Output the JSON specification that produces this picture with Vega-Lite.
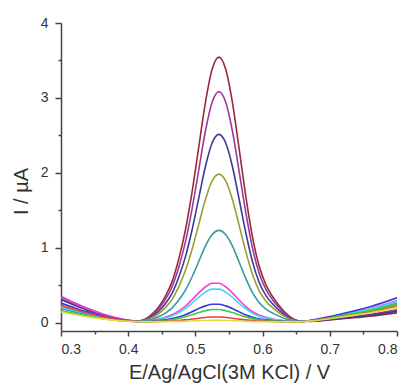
{
"$schema":"https://vega.github.io/schema/vega-lite/v6.json",
"width":336,"height":308,
"autosize":{"type":"none"},
"padding":{"left":61,"top":23,"right":11,"bottom":59},
"background":"white",
"config":{"view":{"stroke":null},"axis":{"grid":false,"domainColor":"#444","domainWidth":1.5,"tickColor":"#444","tickWidth":1.5,"labelFont":"Liberation Sans","labelFontSize":14,"labelColor":"#333","titleFont":"Liberation Sans","titleFontSize":20,"titleFontWeight":"normal","titleColor":"#333","labelOverlap":false}},
"data":{"values":[
{"s":"wine","E":0.30,"I":0.315},{"s":"wine","E":0.32,"I":0.24},{"s":"wine","E":0.34,"I":0.171},{"s":"wine","E":0.36,"I":0.114},{"s":"wine","E":0.38,"I":0.066},{"s":"wine","E":0.40,"I":0.033},{"s":"wine","E":0.415,"I":0.027},{"s":"wine","E":0.425,"I":0.05},{"s":"wine","E":0.435,"I":0.114},{"s":"wine","E":0.445,"I":0.209},{"s":"wine","E":0.455,"I":0.35},{"s":"wine","E":0.465,"I":0.545},{"s":"wine","E":0.475,"I":0.845},{"s":"wine","E":0.485,"I":1.233},{"s":"wine","E":0.495,"I":1.745},{"s":"wine","E":0.505,"I":2.345},{"s":"wine","E":0.515,"I":2.945},{"s":"wine","E":0.525,"I":3.386},{"s":"wine","E":0.535,"I":3.545},{"s":"wine","E":0.545,"I":3.386},{"s":"wine","E":0.555,"I":2.945},{"s":"wine","E":0.565,"I":2.327},{"s":"wine","E":0.575,"I":1.692},{"s":"wine","E":0.585,"I":1.145},{"s":"wine","E":0.595,"I":0.756},{"s":"wine","E":0.605,"I":0.509},{"s":"wine","E":0.615,"I":0.35},{"s":"wine","E":0.625,"I":0.227},{"s":"wine","E":0.635,"I":0.128},{"s":"wine","E":0.645,"I":0.057},{"s":"wine","E":0.655,"I":0.026},{"s":"wine","E":0.67,"I":0.022},{"s":"wine","E":0.70,"I":0.041},{"s":"wine","E":0.73,"I":0.065},{"s":"wine","E":0.76,"I":0.091},{"s":"wine","E":0.80,"I":0.135},
{"s":"purple","E":0.30,"I":0.355},{"s":"purple","E":0.32,"I":0.27},{"s":"purple","E":0.34,"I":0.192},{"s":"purple","E":0.36,"I":0.127},{"s":"purple","E":0.38,"I":0.073},{"s":"purple","E":0.40,"I":0.035},{"s":"purple","E":0.415,"I":0.026},{"s":"purple","E":0.425,"I":0.046},{"s":"purple","E":0.435,"I":0.101},{"s":"purple","E":0.445,"I":0.184},{"s":"purple","E":0.455,"I":0.307},{"s":"purple","E":0.465,"I":0.476},{"s":"purple","E":0.475,"I":0.736},{"s":"purple","E":0.485,"I":1.074},{"s":"purple","E":0.495,"I":1.519},{"s":"purple","E":0.505,"I":2.041},{"s":"purple","E":0.515,"I":2.563},{"s":"purple","E":0.525,"I":2.947},{"s":"purple","E":0.535,"I":3.085},{"s":"purple","E":0.545,"I":2.947},{"s":"purple","E":0.555,"I":2.563},{"s":"purple","E":0.565,"I":2.026},{"s":"purple","E":0.575,"I":1.473},{"s":"purple","E":0.585,"I":0.997},{"s":"purple","E":0.595,"I":0.66},{"s":"purple","E":0.605,"I":0.445},{"s":"purple","E":0.615,"I":0.307},{"s":"purple","E":0.625,"I":0.199},{"s":"purple","E":0.635,"I":0.113},{"s":"purple","E":0.645,"I":0.052},{"s":"purple","E":0.655,"I":0.024},{"s":"purple","E":0.67,"I":0.025},{"s":"purple","E":0.70,"I":0.05},{"s":"purple","E":0.73,"I":0.082},{"s":"purple","E":0.76,"I":0.116},{"s":"purple","E":0.80,"I":0.175},
{"s":"navy","E":0.30,"I":0.315},{"s":"navy","E":0.32,"I":0.24},{"s":"navy","E":0.34,"I":0.171},{"s":"navy","E":0.36,"I":0.114},{"s":"navy","E":0.38,"I":0.066},{"s":"navy","E":0.40,"I":0.033},{"s":"navy","E":0.415,"I":0.025},{"s":"navy","E":0.425,"I":0.04},{"s":"navy","E":0.435,"I":0.085},{"s":"navy","E":0.445,"I":0.153},{"s":"navy","E":0.455,"I":0.253},{"s":"navy","E":0.465,"I":0.39},{"s":"navy","E":0.475,"I":0.603},{"s":"navy","E":0.485,"I":0.878},{"s":"navy","E":0.495,"I":1.24},{"s":"navy","E":0.505,"I":1.665},{"s":"navy","E":0.515,"I":2.09},{"s":"navy","E":0.525,"I":2.403},{"s":"navy","E":0.535,"I":2.515},{"s":"navy","E":0.545,"I":2.403},{"s":"navy","E":0.555,"I":2.09},{"s":"navy","E":0.565,"I":1.653},{"s":"navy","E":0.575,"I":1.203},{"s":"navy","E":0.585,"I":0.815},{"s":"navy","E":0.595,"I":0.54},{"s":"navy","E":0.605,"I":0.365},{"s":"navy","E":0.615,"I":0.253},{"s":"navy","E":0.625,"I":0.165},{"s":"navy","E":0.635,"I":0.095},{"s":"navy","E":0.645,"I":0.045},{"s":"navy","E":0.655,"I":0.023},{"s":"navy","E":0.67,"I":0.023},{"s":"navy","E":0.70,"I":0.046},{"s":"navy","E":0.73,"I":0.074},{"s":"navy","E":0.76,"I":0.103},{"s":"navy","E":0.80,"I":0.155},
{"s":"olive","E":0.30,"I":0.155},{"s":"olive","E":0.32,"I":0.12},{"s":"olive","E":0.34,"I":0.088},{"s":"olive","E":0.36,"I":0.061},{"s":"olive","E":0.38,"I":0.039},{"s":"olive","E":0.40,"I":0.023},{"s":"olive","E":0.415,"I":0.021},{"s":"olive","E":0.425,"I":0.035},{"s":"olive","E":0.435,"I":0.07},{"s":"olive","E":0.445,"I":0.123},{"s":"olive","E":0.455,"I":0.202},{"s":"olive","E":0.465,"I":0.311},{"s":"olive","E":0.475,"I":0.478},{"s":"olive","E":0.485,"I":0.695},{"s":"olive","E":0.495,"I":0.98},{"s":"olive","E":0.505,"I":1.315},{"s":"olive","E":0.515,"I":1.65},{"s":"olive","E":0.525,"I":1.896},{"s":"olive","E":0.535,"I":1.985},{"s":"olive","E":0.545,"I":1.896},{"s":"olive","E":0.555,"I":1.65},{"s":"olive","E":0.565,"I":1.305},{"s":"olive","E":0.575,"I":0.951},{"s":"olive","E":0.585,"I":0.645},{"s":"olive","E":0.595,"I":0.429},{"s":"olive","E":0.605,"I":0.291},{"s":"olive","E":0.615,"I":0.202},{"s":"olive","E":0.625,"I":0.133},{"s":"olive","E":0.635,"I":0.078},{"s":"olive","E":0.645,"I":0.039},{"s":"olive","E":0.655,"I":0.021},{"s":"olive","E":0.67,"I":0.028},{"s":"olive","E":0.70,"I":0.063},{"s":"olive","E":0.73,"I":0.107},{"s":"olive","E":0.76,"I":0.154},{"s":"olive","E":0.80,"I":0.235},
{"s":"teal","E":0.30,"I":0.195},{"s":"teal","E":0.32,"I":0.15},{"s":"teal","E":0.34,"I":0.109},{"s":"teal","E":0.36,"I":0.074},{"s":"teal","E":0.38,"I":0.046},{"s":"teal","E":0.40,"I":0.026},{"s":"teal","E":0.415,"I":0.02},{"s":"teal","E":0.425,"I":0.027},{"s":"teal","E":0.435,"I":0.049},{"s":"teal","E":0.445,"I":0.082},{"s":"teal","E":0.455,"I":0.131},{"s":"teal","E":0.465,"I":0.198},{"s":"teal","E":0.475,"I":0.302},{"s":"teal","E":0.485,"I":0.436},{"s":"teal","E":0.495,"I":0.613},{"s":"teal","E":0.505,"I":0.82},{"s":"teal","E":0.515,"I":1.028},{"s":"teal","E":0.525,"I":1.18},{"s":"teal","E":0.535,"I":1.235},{"s":"teal","E":0.545,"I":1.18},{"s":"teal","E":0.555,"I":1.028},{"s":"teal","E":0.565,"I":0.814},{"s":"teal","E":0.575,"I":0.595},{"s":"teal","E":0.585,"I":0.405},{"s":"teal","E":0.595,"I":0.271},{"s":"teal","E":0.605,"I":0.186},{"s":"teal","E":0.615,"I":0.131},{"s":"teal","E":0.625,"I":0.088},{"s":"teal","E":0.635,"I":0.054},{"s":"teal","E":0.645,"I":0.03},{"s":"teal","E":0.655,"I":0.019},{"s":"teal","E":0.67,"I":0.03},{"s":"teal","E":0.70,"I":0.07},{"s":"teal","E":0.73,"I":0.12},{"s":"teal","E":0.76,"I":0.173},{"s":"teal","E":0.80,"I":0.265},
{"s":"magenta","E":0.30,"I":0.345},{"s":"magenta","E":0.32,"I":0.263},{"s":"magenta","E":0.34,"I":0.187},{"s":"magenta","E":0.36,"I":0.124},{"s":"magenta","E":0.38,"I":0.071},{"s":"magenta","E":0.40,"I":0.035},{"s":"magenta","E":0.415,"I":0.023},{"s":"magenta","E":0.425,"I":0.024},{"s":"magenta","E":0.435,"I":0.036},{"s":"magenta","E":0.445,"I":0.051},{"s":"magenta","E":0.455,"I":0.075},{"s":"magenta","E":0.465,"I":0.109},{"s":"magenta","E":0.475,"I":0.158},{"s":"magenta","E":0.485,"I":0.223},{"s":"magenta","E":0.495,"I":0.309},{"s":"magenta","E":0.505,"I":0.402},{"s":"magenta","E":0.515,"I":0.483},{"s":"magenta","E":0.525,"I":0.53},{"s":"magenta","E":0.535,"I":0.53},{"s":"magenta","E":0.545,"I":0.483},{"s":"magenta","E":0.555,"I":0.402},{"s":"magenta","E":0.565,"I":0.306},{"s":"magenta","E":0.575,"I":0.218},{"s":"magenta","E":0.585,"I":0.15},{"s":"magenta","E":0.595,"I":0.103},{"s":"magenta","E":0.605,"I":0.075},{"s":"magenta","E":0.615,"I":0.054},{"s":"magenta","E":0.625,"I":0.038},{"s":"magenta","E":0.635,"I":0.025},{"s":"magenta","E":0.645,"I":0.018},{"s":"magenta","E":0.655,"I":0.015},{"s":"magenta","E":0.67,"I":0.032},{"s":"magenta","E":0.70,"I":0.077},{"s":"magenta","E":0.73,"I":0.133},{"s":"magenta","E":0.76,"I":0.191},{"s":"magenta","E":0.80,"I":0.295},
{"s":"cyan","E":0.30,"I":0.215},{"s":"cyan","E":0.32,"I":0.165},{"s":"cyan","E":0.34,"I":0.119},{"s":"cyan","E":0.36,"I":0.081},{"s":"cyan","E":0.38,"I":0.049},{"s":"cyan","E":0.40,"I":0.027},{"s":"cyan","E":0.415,"I":0.021},{"s":"cyan","E":0.425,"I":0.023},{"s":"cyan","E":0.435,"I":0.033},{"s":"cyan","E":0.445,"I":0.046},{"s":"cyan","E":0.455,"I":0.066},{"s":"cyan","E":0.465,"I":0.094},{"s":"cyan","E":0.475,"I":0.136},{"s":"cyan","E":0.485,"I":0.191},{"s":"cyan","E":0.495,"I":0.264},{"s":"cyan","E":0.505,"I":0.343},{"s":"cyan","E":0.515,"I":0.411},{"s":"cyan","E":0.525,"I":0.451},{"s":"cyan","E":0.535,"I":0.451},{"s":"cyan","E":0.545,"I":0.411},{"s":"cyan","E":0.555,"I":0.343},{"s":"cyan","E":0.565,"I":0.261},{"s":"cyan","E":0.575,"I":0.187},{"s":"cyan","E":0.585,"I":0.129},{"s":"cyan","E":0.595,"I":0.09},{"s":"cyan","E":0.605,"I":0.066},{"s":"cyan","E":0.615,"I":0.048},{"s":"cyan","E":0.625,"I":0.035},{"s":"cyan","E":0.635,"I":0.024},{"s":"cyan","E":0.645,"I":0.018},{"s":"cyan","E":0.655,"I":0.015},{"s":"cyan","E":0.67,"I":0.031},{"s":"cyan","E":0.70,"I":0.074},{"s":"cyan","E":0.73,"I":0.128},{"s":"cyan","E":0.76,"I":0.185},{"s":"cyan","E":0.80,"I":0.285},
{"s":"blue","E":0.30,"I":0.265},{"s":"blue","E":0.32,"I":0.203},{"s":"blue","E":0.34,"I":0.145},{"s":"blue","E":0.36,"I":0.098},{"s":"blue","E":0.38,"I":0.058},{"s":"blue","E":0.40,"I":0.03},{"s":"blue","E":0.415,"I":0.02},{"s":"blue","E":0.425,"I":0.019},{"s":"blue","E":0.435,"I":0.024},{"s":"blue","E":0.445,"I":0.032},{"s":"blue","E":0.455,"I":0.042},{"s":"blue","E":0.465,"I":0.058},{"s":"blue","E":0.475,"I":0.08},{"s":"blue","E":0.485,"I":0.11},{"s":"blue","E":0.495,"I":0.149},{"s":"blue","E":0.505,"I":0.192},{"s":"blue","E":0.515,"I":0.228},{"s":"blue","E":0.525,"I":0.25},{"s":"blue","E":0.535,"I":0.25},{"s":"blue","E":0.545,"I":0.228},{"s":"blue","E":0.555,"I":0.192},{"s":"blue","E":0.565,"I":0.148},{"s":"blue","E":0.575,"I":0.107},{"s":"blue","E":0.585,"I":0.077},{"s":"blue","E":0.595,"I":0.055},{"s":"blue","E":0.605,"I":0.042},{"s":"blue","E":0.615,"I":0.033},{"s":"blue","E":0.625,"I":0.026},{"s":"blue","E":0.635,"I":0.02},{"s":"blue","E":0.645,"I":0.016},{"s":"blue","E":0.655,"I":0.015},{"s":"blue","E":0.67,"I":0.034},{"s":"blue","E":0.70,"I":0.085},{"s":"blue","E":0.73,"I":0.149},{"s":"blue","E":0.76,"I":0.217},{"s":"blue","E":0.80,"I":0.335},
{"s":"green","E":0.30,"I":0.165},{"s":"green","E":0.32,"I":0.128},{"s":"green","E":0.34,"I":0.093},{"s":"green","E":0.36,"I":0.065},{"s":"green","E":0.38,"I":0.041},{"s":"green","E":0.40,"I":0.024},{"s":"green","E":0.415,"I":0.018},{"s":"green","E":0.425,"I":0.018},{"s":"green","E":0.435,"I":0.022},{"s":"green","E":0.445,"I":0.027},{"s":"green","E":0.455,"I":0.034},{"s":"green","E":0.465,"I":0.045},{"s":"green","E":0.475,"I":0.061},{"s":"green","E":0.485,"I":0.082},{"s":"green","E":0.495,"I":0.109},{"s":"green","E":0.505,"I":0.139},{"s":"green","E":0.515,"I":0.165},{"s":"green","E":0.525,"I":0.18},{"s":"green","E":0.535,"I":0.18},{"s":"green","E":0.545,"I":0.165},{"s":"green","E":0.555,"I":0.139},{"s":"green","E":0.565,"I":0.109},{"s":"green","E":0.575,"I":0.08},{"s":"green","E":0.585,"I":0.058},{"s":"green","E":0.595,"I":0.043},{"s":"green","E":0.605,"I":0.034},{"s":"green","E":0.615,"I":0.028},{"s":"green","E":0.625,"I":0.023},{"s":"green","E":0.635,"I":0.018},{"s":"green","E":0.645,"I":0.016},{"s":"green","E":0.655,"I":0.015},{"s":"green","E":0.67,"I":0.029},{"s":"green","E":0.70,"I":0.068},{"s":"green","E":0.73,"I":0.116},{"s":"green","E":0.76,"I":0.166},{"s":"green","E":0.80,"I":0.255},
{"s":"red","E":0.30,"I":0.235},{"s":"red","E":0.32,"I":0.18},{"s":"red","E":0.34,"I":0.129},{"s":"red","E":0.36,"I":0.088},{"s":"red","E":0.38,"I":0.052},{"s":"red","E":0.40,"I":0.028},{"s":"red","E":0.415,"I":0.018},{"s":"red","E":0.425,"I":0.016},{"s":"red","E":0.435,"I":0.018},{"s":"red","E":0.445,"I":0.02},{"s":"red","E":0.455,"I":0.023},{"s":"red","E":0.465,"I":0.027},{"s":"red","E":0.475,"I":0.033},{"s":"red","E":0.485,"I":0.041},{"s":"red","E":0.495,"I":0.052},{"s":"red","E":0.505,"I":0.064},{"s":"red","E":0.515,"I":0.074},{"s":"red","E":0.525,"I":0.08},{"s":"red","E":0.535,"I":0.08},{"s":"red","E":0.545,"I":0.074},{"s":"red","E":0.555,"I":0.064},{"s":"red","E":0.565,"I":0.052},{"s":"red","E":0.575,"I":0.041},{"s":"red","E":0.585,"I":0.032},{"s":"red","E":0.595,"I":0.026},{"s":"red","E":0.605,"I":0.023},{"s":"red","E":0.615,"I":0.02},{"s":"red","E":0.625,"I":0.018},{"s":"red","E":0.635,"I":0.016},{"s":"red","E":0.645,"I":0.015},{"s":"red","E":0.655,"I":0.015},{"s":"red","E":0.67,"I":0.027},{"s":"red","E":0.70,"I":0.059},{"s":"red","E":0.73,"I":0.099},{"s":"red","E":0.76,"I":0.141},{"s":"red","E":0.80,"I":0.215},
{"s":"yellow","E":0.30,"I":0.145},{"s":"yellow","E":0.32,"I":0.113},{"s":"yellow","E":0.34,"I":0.083},{"s":"yellow","E":0.36,"I":0.058},{"s":"yellow","E":0.38,"I":0.037},{"s":"yellow","E":0.40,"I":0.023},{"s":"yellow","E":0.415,"I":0.017},{"s":"yellow","E":0.425,"I":0.015},{"s":"yellow","E":0.435,"I":0.016},{"s":"yellow","E":0.445,"I":0.016},{"s":"yellow","E":0.455,"I":0.017},{"s":"yellow","E":0.465,"I":0.019},{"s":"yellow","E":0.475,"I":0.021},{"s":"yellow","E":0.485,"I":0.023},{"s":"yellow","E":0.495,"I":0.026},{"s":"yellow","E":0.505,"I":0.03},{"s":"yellow","E":0.515,"I":0.033},{"s":"yellow","E":0.525,"I":0.035},{"s":"yellow","E":0.535,"I":0.035},{"s":"yellow","E":0.545,"I":0.033},{"s":"yellow","E":0.555,"I":0.03},{"s":"yellow","E":0.565,"I":0.026},{"s":"yellow","E":0.575,"I":0.023},{"s":"yellow","E":0.585,"I":0.02},{"s":"yellow","E":0.595,"I":0.018},{"s":"yellow","E":0.605,"I":0.017},{"s":"yellow","E":0.615,"I":0.016},{"s":"yellow","E":0.625,"I":0.016},{"s":"yellow","E":0.635,"I":0.015},{"s":"yellow","E":0.645,"I":0.015},{"s":"yellow","E":0.655,"I":0.015},{"s":"yellow","E":0.67,"I":0.026},{"s":"yellow","E":0.70,"I":0.057},{"s":"yellow","E":0.73,"I":0.095},{"s":"yellow","E":0.76,"I":0.135},{"s":"yellow","E":0.80,"I":0.205}
]},
"mark":{"type":"line","interpolate":"monotone","strokeWidth":1.6,"clip":true},
"encoding":{
"x":{"field":"E","type":"quantitative","scale":{"domain":[0.3,0.8],"nice":false,"zero":false},
"axis":{"title":"E/Ag/AgCl(3M KCl) / V","values":[0.3,0.35,0.4,0.45,0.5,0.55,0.6,0.65,0.7,0.75,0.8],
"labelExpr":"round(datum.value*100) % 10 == 0 ? format(datum.value, '.1f') : ''",
"tickSize":{"condition":{"test":"round(datum.value*100) % 10 != 0","value":3},"value":5},
"labelPadding":6,"titleY":47,"titleBaseline":"alphabetic"}},
"y":{"field":"I","type":"quantitative","scale":{"domain":[-0.107,4],"nice":false,"zero":false},
"axis":{"title":"I / µA","values":[0,0.5,1,1.5,2,2.5,3,3.5,4],
"labelExpr":"datum.value % 1 == 0 ? format(datum.value, 'd') : ''",
"tickSize":{"condition":{"test":"datum.value % 1 != 0","value":3},"value":6},
"labelPadding":7,"titleX":-40,"titleY":168,"titleBaseline":"middle","titleAlign":"center"}},
"color":{"field":"s","type":"nominal","legend":null,"sort":["yellow","red","green","blue","cyan","magenta","teal","olive","navy","purple","wine"],
"scale":{"domain":["yellow","red","green","blue","cyan","magenta","teal","olive","navy","purple","wine"],
"range":["#e0e040","#e84040","#40c840","#3a3ad8","#40d8f0","#f040d8","#309c9c","#9c9c30","#3a3a9c","#9c3a9c","#992a3a"]}}
}
}
